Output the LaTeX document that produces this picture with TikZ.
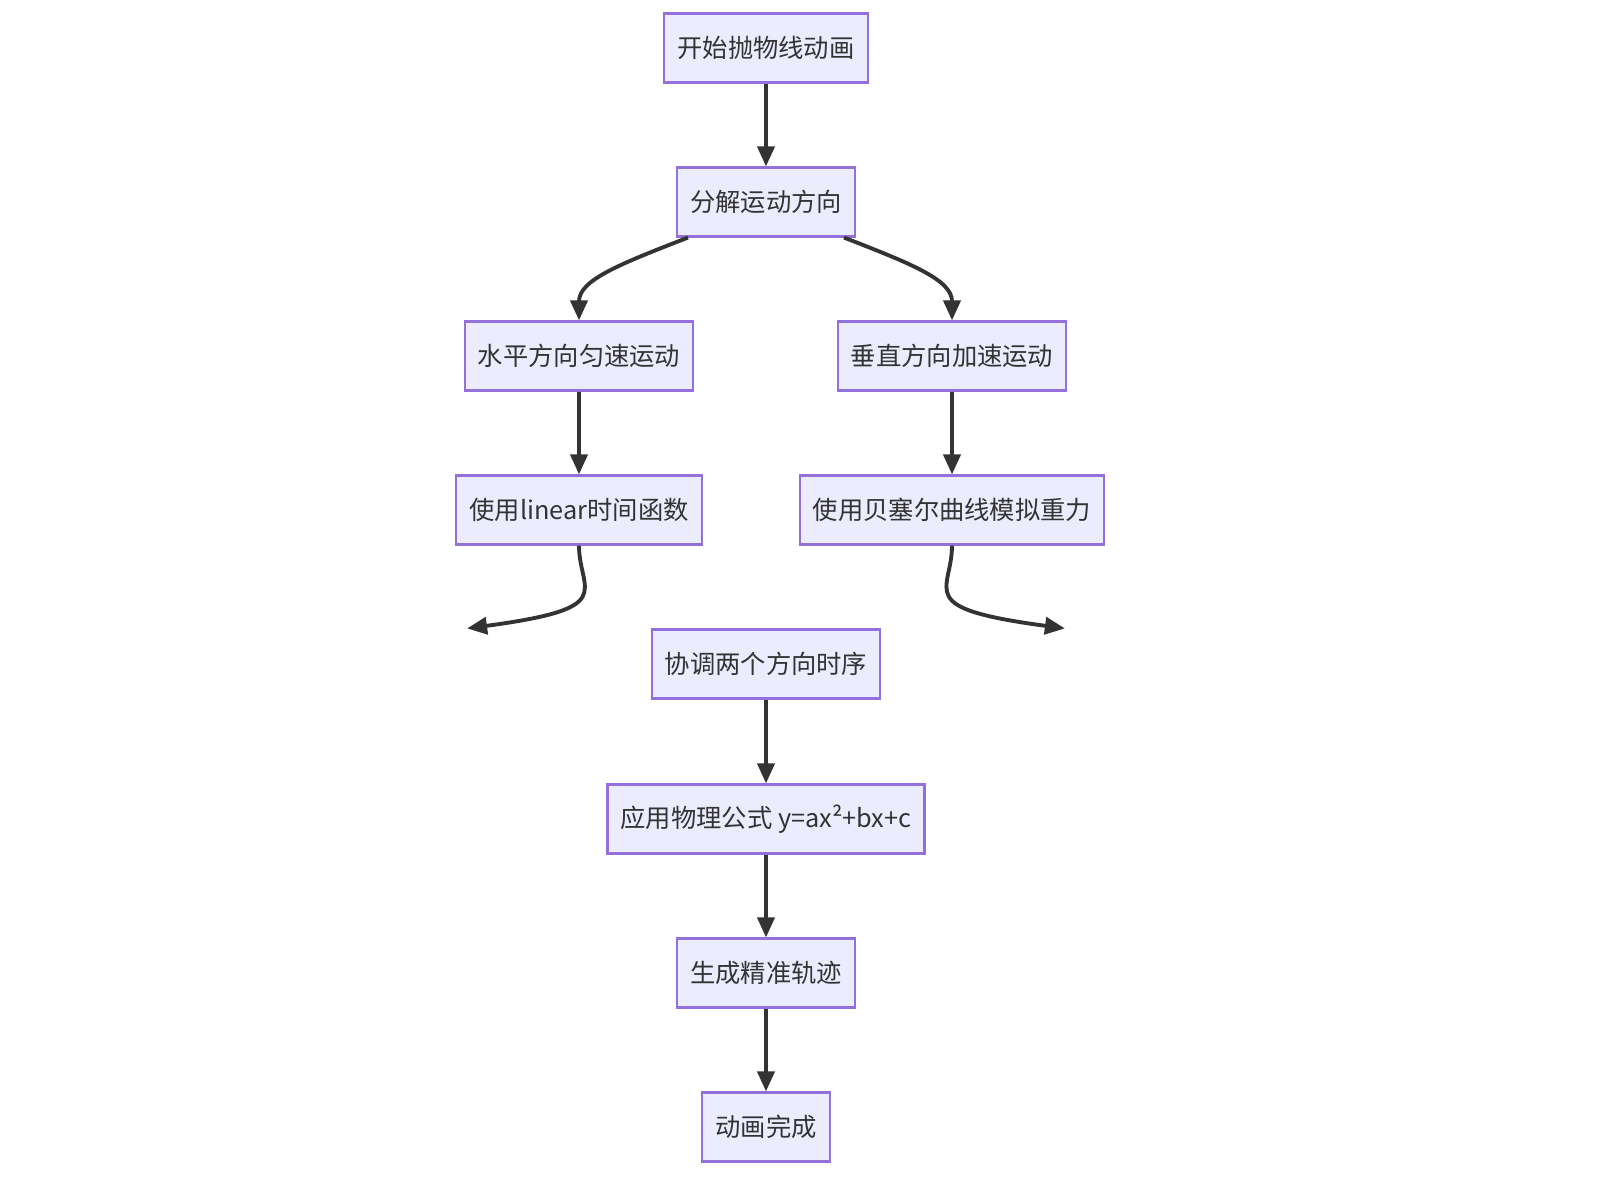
\documentclass[tikz,border=0pt]{standalone}
\usepackage{fontspec}
\setmainfont{Noto Sans CJK SC}
\usetikzlibrary{arrows.meta}
\definecolor{boxfill}{HTML}{ECECFF}
\definecolor{boxline}{HTML}{9370DB}
\definecolor{arrowc}{HTML}{333333}
\begin{document}
\begin{tikzpicture}[
    x=0.01cm, y=-0.01cm,
    every node/.style={font=\fontsize{7.2pt}{9pt}\selectfont, text=arrowc},
    box/.style={rectangle,draw=boxline,fill=boxfill,line width=0.6pt,minimum height=0.69cm,inner xsep=0.13cm,align=center},
    flow/.style={-{Triangle[length=0.2cm,width=0.17cm]},draw=arrowc,line width=1.1pt}
]
\useasboundingbox (0,0) rectangle (1600,1200);

% Node grid (absolute positions)
\node[box] (start)    at (766,48)   {开始抛物线动画};
\node[box] (split)    at (766,202)  {分解运动方向};
\node[box] (horiz)    at (579,356)  {水平方向匀速运动};
\node[box] (vert)     at (952,356)  {垂直方向加速运动};
\node[box] (linear)   at (579,510)  {使用linear时间函数};
\node[box] (bezier)   at (952,510)  {使用贝塞尔曲线模拟重力};
\node[box] (sync)     at (766,664)  {协调两个方向时序};
\node[box] (formula)  at (766,819)  {应用物理公式 y=ax²+bx+c};
\node[box] (path)     at (766,973)  {生成精准轨迹};
\node[box] (done)     at (766,1127) {动画完成};

% Straight connections
\draw[flow] (start) -- (split);
\draw[flow] (horiz) -- (linear);
\draw[flow] (vert) -- (bezier);
\draw[flow] (sync) -- (formula);
\draw[flow] (formula) -- (path);
\draw[flow] (path) -- (done);

% Branching and merging curves
\draw[flow] (split.south west) ++(12,0) coordinate (sl)
    .. controls (620,264) and (579,280) .. (horiz.north);
\draw[flow] (split.south east) ++(-12,0) coordinate (sr)
    .. controls (912,264) and (952,280) .. (vert.north);
\draw[flow] (linear.south) .. controls (579,592) and (620,608) .. ([xshift=-85]sync.north);
\draw[flow] (bezier.south) .. controls (952,592) and (912,608) .. ([xshift=85]sync.north);

\end{tikzpicture}
\end{document}
